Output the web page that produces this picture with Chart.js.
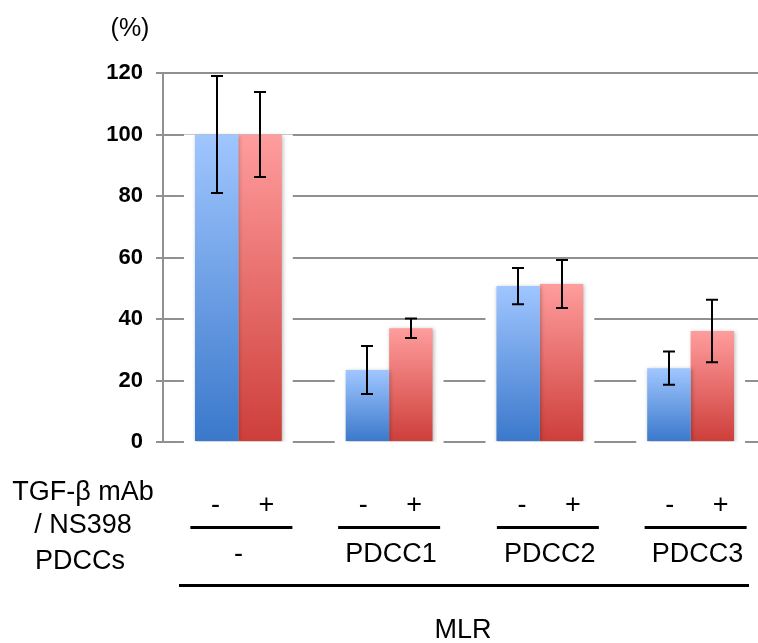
<!DOCTYPE html>
<html>
<head>
<meta charset="utf-8">
<script src="https://cdn.jsdelivr.net/npm/chart.js@4.4.0/dist/chart.umd.min.js"></script>
<style>
  html, body { margin: 0; padding: 0; background: #fff; overflow: hidden; }
  #wrap { position: absolute; left: 0; top: 0; width: 800px; height: 643px; }
</style>
</head>
<body>
<div id="wrap"><canvas id="mlr-chart" width="800" height="643"></canvas></div>
<script>
// --- Data ---
const groups = ['-', 'PDCC1', 'PDCC2', 'PDCC3'];
const signs = ['-', '+'];
const blueValues = [100, 23.4, 50.7, 24.0];
const redValues = [100, 37.0, 51.4, 36.1];
const blueErrors = [19, 7.8, 5.9, 5.4];
const redErrors = [13.8, 3.2, 7.8, 10.2];
const yTicks = [0, 20, 40, 60, 80, 100, 120];
const rowLabels = ['TGF-β mAb', '/ NS398', 'PDCCs'];
const unitLabel = '(%)';
const footLabel = 'MLR';

const FONT = '"Liberation Sans", Arial, sans-serif';
// small horizontal nudges of the label table, per group (px)
const tableShift = [3, 0, 8, 5];

// vertical gradient per bar, light at the top, dark at the base
const barGradient = (top, bottom) => (context) => {
    const chart = context.chart;
    const yScale = chart.scales.y;
    if (!chart.chartArea || !yScale || context.raw === undefined) return bottom;
    const yTop = yScale.getPixelForValue(context.raw);
    const yBase = yScale.getPixelForValue(0);
    const g = chart.ctx.createLinearGradient(0, yTop, 0, yBase);
    g.addColorStop(0, top);
    g.addColorStop(1, bottom);
    return g;
};

// white gap round each pair of bars (gridlines stop short of them)
const barHaloPlugin = {
    id: 'barHalo',
    beforeDatasetsDraw(chart) {
        const m0 = chart.getDatasetMeta(0).data;
        const m1 = chart.getDatasetMeta(1).data;
        const ctx = chart.ctx;
        ctx.save();
        ctx.fillStyle = '#ffffff';
        m0.forEach((b0, i) => {
            const b1 = m1[i];
            const left = b0.x - b0.width / 2 - 11;
            const right = b1.x + b1.width / 2 + 11;
            const top = Math.min(b0.y, b1.y);
            ctx.fillRect(left, top, right - left, chart.chartArea.bottom + 3 - top);
        });
        ctx.restore();
    },
    beforeDatasetDraw(chart) {
        const ctx = chart.ctx;
        ctx.save();
        ctx.shadowColor = 'rgba(0,0,0,0.28)';
        ctx.shadowBlur = 4;
        ctx.shadowOffsetX = 1;
        ctx.shadowOffsetY = 1;
    },
    afterDatasetDraw(chart) {
        chart.ctx.restore();
    }
};

// error bars
const errorBarPlugin = {
    id: 'errorBars',
    afterDatasetsDraw(chart) {
        const ctx = chart.ctx;
        const yScale = chart.scales.y;
        const errs = [blueErrors, redErrors];
        ctx.save();
        ctx.strokeStyle = '#000';
        ctx.lineWidth = 2;
        chart.data.datasets.forEach((ds, d) => {
            chart.getDatasetMeta(d).data.forEach((bar, i) => {
                const v = ds.data[i];
                const yHi = yScale.getPixelForValue(v + errs[d][i]);
                const yLo = yScale.getPixelForValue(v - errs[d][i]);
                const x = Math.round(bar.x);
                ctx.beginPath();
                ctx.moveTo(x, yHi); ctx.lineTo(x, yLo);
                ctx.moveTo(x - 6, yHi); ctx.lineTo(x + 6, yHi);
                ctx.moveTo(x - 6, yLo); ctx.lineTo(x + 6, yLo);
                ctx.stroke();
            });
        });
        ctx.restore();
    }
};

// table of labels under the chart
const tableLabelsPlugin = {
    id: 'tableLabels',
    afterDraw(chart) {
        const ctx = chart.ctx;
        const x = chart.scales.x;
        const area = chart.chartArea;
        ctx.save();
        ctx.fillStyle = '#000';
        ctx.strokeStyle = '#000';
        ctx.textAlign = 'center';
        ctx.textBaseline = 'alphabetic';

        ctx.font = '25px ' + FONT;
        ctx.fillText(unitLabel, area.left - 33, 36);

        ctx.font = '27px ' + FONT;
        ctx.fillText(rowLabels[0], 83, 500);
        ctx.fillText(rowLabels[1], 83, 533);
        ctx.fillText(rowLabels[2], 80, 569);

        ctx.lineWidth = 3;
        groups.forEach((g, i) => {
            const cx = x.getPixelForValue(i) + tableShift[i];
            ctx.fillText(signs[0], cx - 26, 513);
            ctx.fillText(signs[1], cx + 25, 513);
            ctx.beginPath();
            ctx.moveTo(cx - 51, 527.5);
            ctx.lineTo(cx + 51, 527.5);
            ctx.stroke();
            ctx.fillText(g, cx + (i === 0 ? -3 : 2), 562);
        });

        ctx.beginPath();
        ctx.moveTo(179, 585.5);
        ctx.lineTo(749, 585.5);
        ctx.stroke();

        ctx.fillText(footLabel, 463, 638);
        ctx.restore();
    }
};

new Chart(document.getElementById('mlr-chart'), {
    type: 'bar',
    data: {
        labels: groups,
        datasets: [
            {
                label: '-',
                data: blueValues,
                backgroundColor: barGradient('#a0c6ff', '#3a78cb'),
                categoryPercentage: 0.576,
                barPercentage: 1.0
            },
            {
                label: '+',
                data: redValues,
                backgroundColor: barGradient('#ff9d9d', '#cd3e3a'),
                categoryPercentage: 0.576,
                barPercentage: 1.0
            }
        ]
    },
    options: {
        responsive: false,
        animation: false,
        devicePixelRatio: 1,
        layout: { padding: { top: 73, bottom: 201, right: 34, left: 0 } },
        plugins: {
            legend: { display: false },
            tooltip: { enabled: false }
        },
        scales: {
            x: { display: false },
            y: {
                min: 0,
                max: 120,
                afterFit: (scale) => { scale.width = 163; },
                afterBuildTicks: (scale) => { scale.ticks = yTicks.map(v => ({ value: v })); },
                border: { display: true, color: '#909090', width: 2 },
                grid: { color: '#909090', lineWidth: 2, tickLength: 7, drawTicks: true },
                ticks: {
                    color: '#000',
                    padding: 13,
                    font: { family: FONT, size: 22, weight: 'bold' }
                }
            }
        }
    },
    plugins: [barHaloPlugin, errorBarPlugin, tableLabelsPlugin]
});
</script>
</body>
</html>
